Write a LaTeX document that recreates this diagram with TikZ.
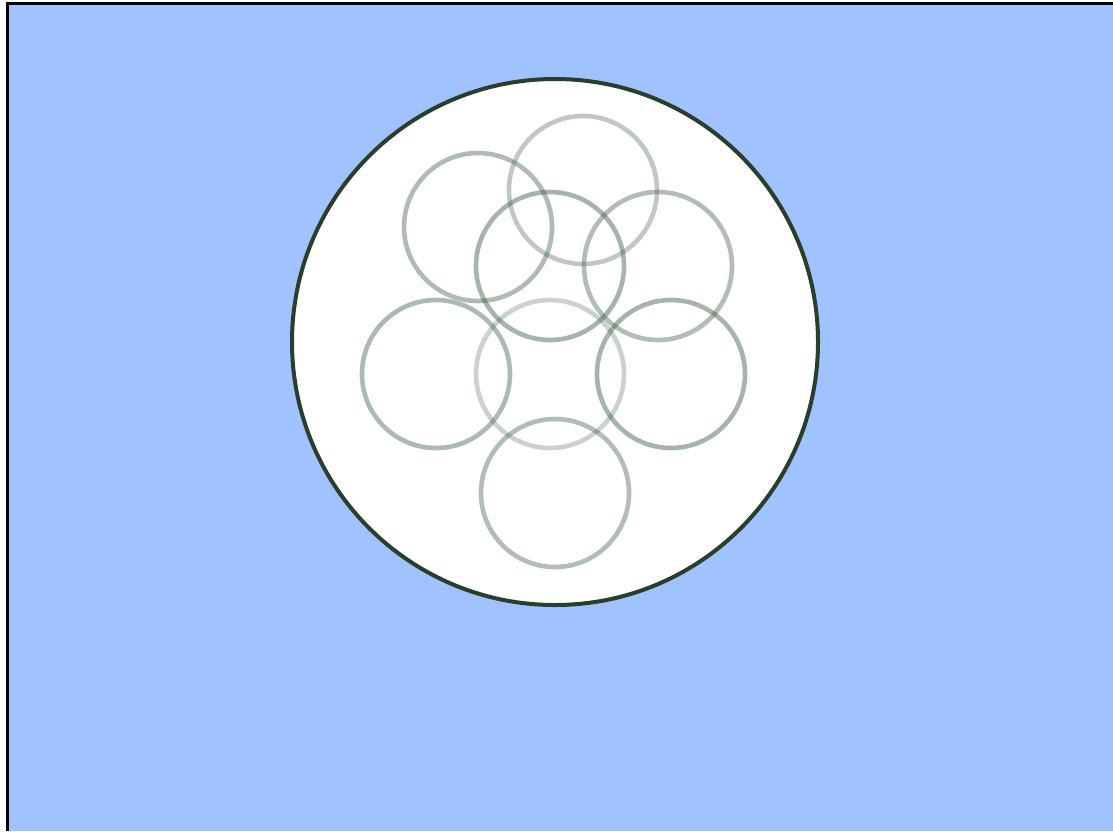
\documentclass[tikz,border=0pt]{standalone}
\usepackage{tikz}
\definecolor{sky}{HTML}{A0C2FF}
\definecolor{rim}{HTML}{2A3E2C}
\definecolor{ring}{HTML}{4E6A57}
\tikzset{
  frame/.style = {fill=sky},
  edge/.style  = {line width=3pt, black},
  dish/.style  = {draw=rim, fill=white, line width=4pt},
  cell/.style  = {draw=ring, line width=4.6pt}
}

\begin{document}
\begin{tikzpicture}[x=1pt, y=-1pt]
  \useasboundingbox[fill=white] (0,0) rectangle (1113,831);
  \fill[frame] (7,3) rectangle (1113,831);
  \draw[edge] (7,831) -- (7,3) -- (1113,3);
  % outer dish
  \draw[dish] (555,342) circle (263);
  % rings
  \foreach \cx/\cy/\op in {478/227/0.45, 583/190/0.36, 550/266/0.50,
                           658/266/0.44, 436/374/0.46, 550/374/0.30,
                           671/374/0.50, 555/493/0.44}
    {\draw[cell, draw opacity=\op] (\cx,\cy) circle (74);}
\end{tikzpicture}
\end{document}
